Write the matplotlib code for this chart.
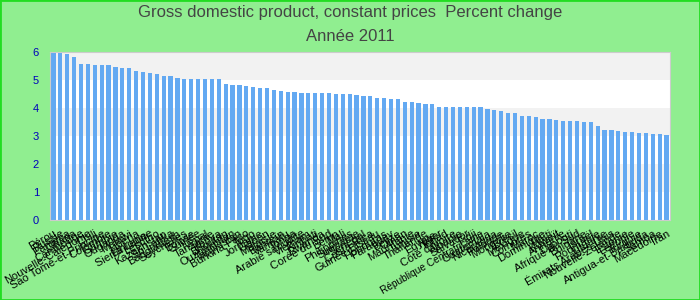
import matplotlib.pyplot as plt
from matplotlib.patches import Rectangle

plt.rcParams['font.family'] = ['Liberation Sans', 'DejaVu Sans']

pays = [
    "Pérou", "Russie", "Panama", "Ghana", "Cambodge",
    "Nouvelle-Calédonie", "Chili", "Sao Tomé-et-Principe", "Colombie", "Gambie",
    "Ouganda", "Malawi", "Liberia", "Éthiopie", "Sierra Leone",
    "Lesotho", "Kazakhstan", "Sri Lanka", "Bangladesh", "Seychelles",
    "Bolivie", "Guinée", "Népal", "Tanzanie", "Kenya",
    "Bhoutan", "Ouzbékistan", "Tadjikistan", "Burkina Faso", "Togo",
    "Jordanie", "Gabon", "Malaisie", "Bahreïn", "Vanuatu",
    "Tonga", "Arabie saoudite", "Vietnam", "Kiribati", "Rwanda",
    "Corée du Sud", "Bénin", "Mali", "Philippines", "Suriname",
    "Sénégal", "Costa Rica", "Guinée-Bissau", "Honduras", "Paraguay",
    "Belize", "Oman", "Mauritanie", "Tunisie", "Thaïlande",
    "Égypte", "Niger", "Tchad", "Côte d'Ivoire", "Albanie",
    "Salvador", "Fidji", "République Centrafricaine", "Guatemala", "Nicaragua",
    "Pologne", "Mongolie", "Brésil", "Mexique", "Comores",
    "Maroc", "Dominique", "Haïti", "Koweït", "Arménie",
    "Djibouti", "Afrique du Sud", "Bulgarie", "Israël", "Roumanie",
    "Lituanie", "Émirats Arabes Unis", "Nouvelle-Zélande", "Estonie", "Lettonie",
    "Turquie", "Antigua-et-Barbuda", "Samoa", "Macédoine", "Iran",
]

croissance = [
    5.99, 5.95, 5.92, 5.81, 5.56, 5.56, 5.52, 5.52, 5.52, 5.45,
    5.42, 5.42, 5.31, 5.27, 5.24, 5.20, 5.13, 5.13, 5.06, 5.03,
    5.03, 5.03, 5.03, 5.03, 5.03, 4.85, 4.81, 4.81, 4.77, 4.74,
    4.70, 4.70, 4.63, 4.60, 4.56, 4.56, 4.53, 4.53, 4.53, 4.53,
    4.53, 4.49, 4.49, 4.49, 4.46, 4.42, 4.42, 4.35, 4.35, 4.31,
    4.31, 4.21, 4.21, 4.17, 4.13, 4.13, 4.03, 4.03, 4.03, 4.03,
    4.03, 4.03, 4.03, 3.96, 3.92, 3.88, 3.81, 3.81, 3.71, 3.71,
    3.67, 3.60, 3.60, 3.56, 3.53, 3.53, 3.53, 3.49, 3.49, 3.35,
    3.21, 3.21, 3.17, 3.14, 3.14, 3.10, 3.10, 3.07, 3.07, 3.03,
]

fig = plt.figure(figsize=(7, 3), dpi=100, facecolor='#90ee90')
fig.patches.append(Rectangle((0, 0), 1, 1, transform=fig.transFigure,
                             fill=False, edgecolor='#22dd22', linewidth=2))
ax = fig.add_axes([50/700, 80/300, 620/700, 168.3/300])
ax.set_facecolor('white')

# bandes alternées
for lo in [1, 3, 5]:
    ax.axhspan(lo, lo + 1, color='#f2f2f2', zorder=0, lw=0)

x = range(len(pays))
ax.bar(x, croissance, width=0.6, color='#63a9f2', zorder=2)

ax.set_xlim(-0.5, len(pays) - 0.5)
ax.set_ylim(0, 6)
ax.set_yticks(range(7))
ax.tick_params(axis='y', length=0, labelsize=8, labelcolor='#0000bb', pad=8)
ax.set_xticks(list(x))
ax.set_xticklabels(pays, rotation=30, ha='right', rotation_mode='anchor', fontsize=8)
ax.tick_params(axis='x', length=0, pad=6)
for lab in ax.get_xticklabels():
    if len(lab.get_text()) > 22:
        lab.set_fontsize(7.3)
for s in ax.spines.values():
    s.set_color('#cccccc')

fig.text(0.5, 0.957, 'Gross domestic product, constant prices  Percent change',
         ha='center', va='center', fontsize=12, color='#444444')
fig.text(0.5, 0.878, 'Année 2011', ha='center', va='center', fontsize=12, color='#444444')

fig.savefig('out.png', dpi=100, facecolor=fig.get_facecolor())
